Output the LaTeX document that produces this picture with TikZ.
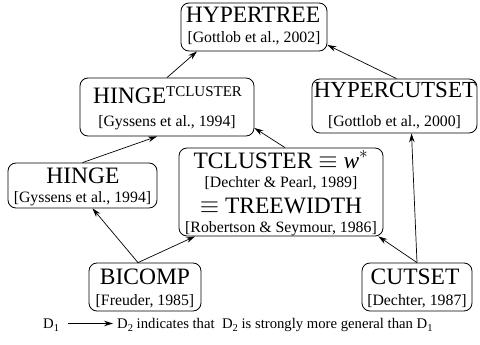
\documentclass[tikz,border=0pt]{standalone}
\usepackage{fontspec}
\setmainfont{Liberation Serif}
\usetikzlibrary{arrows.meta}
\newcommand{\lsub}[1]{\raisebox{-3.5pt}{\fontsize{10.5}{11}\selectfont #1}}
\begin{document}
\begin{tikzpicture}[x=1pt,y=-1pt,
  box/.style={draw, rounded corners=8pt, line width=0.8pt, inner sep=0pt},
  ttl/.style={font=\fontsize{23.5}{28}\selectfont, inner sep=0pt, anchor=base},
  cit/.style={font=\fontsize{15.8}{19}\selectfont, inner sep=0pt, anchor=base},
  leg/.style={font=\fontsize{14.7}{18}\selectfont, inner sep=0pt, anchor=base west},
  arr/.style={-{Stealth[length=9pt,width=5.5pt]}, line width=0.7pt}]
\useasboundingbox (0,0) rectangle (480,345);
% boxes
\node[box, minimum width=146pt, minimum height=48pt] (ht) at (254,27) {};
\node[box, minimum width=174pt, minimum height=58pt] (hinget) at (167,107) {};
\node[box, minimum width=165pt, minimum height=54pt] (hc) at (394.5,106) {};
\node[box, minimum width=149pt, minimum height=45pt] (hinge) at (82.5,185.5) {};
\node[box, minimum width=204pt, minimum height=88pt] (tc) at (281,192) {};
\node[box, minimum width=112pt, minimum height=48pt] (bicomp) at (145,287) {};
\node[box, minimum width=110pt, minimum height=48pt] (cutset) at (417,287) {};
% texts
\node[ttl] (ht-t) at (253,22.5) {HYPERTREE};
\node[cit] (ht-c) at (254,43) {[Gottlob et al., 2002]};
\node[ttl] (hinget-t) at (167.5,103) {HINGE\raisebox{6.5pt}{\fontsize{15}{15}\selectfont TCLUSTER}};
\node[cit] (hinget-c) at (167,127) {[Gyssens et al., 1994]};
\node[ttl, font=\fontsize{23}{28}\selectfont] (hc-t) at (395,98) {HYPERCUTSET};
\node[cit] (hc-c) at (394.5,127) {[Gottlob et al., 2000]};
\node[ttl] (hinge-t) at (83,183) {HINGE};
\node[cit] (hinge-c) at (82.5,202) {[Gyssens et al., 1994]};
\node[ttl] (tc-t1) at (281,168) {TCLUSTER $\equiv$ \textit{w}$^{*}$};
\node[cit] (tc-c1) at (281,187) {[Dechter \& Pearl, 1989]};
\node[ttl] (tc-t2) at (281,213) {$\equiv$ TREEWIDTH};
\node[cit] (tc-c2) at (281,232) {[Robertson \& Seymour, 1986]};
\node[ttl] (bicomp-t) at (145,284) {BICOMP};
\node[cit] (bicomp-c) at (145,305) {[Freuder, 1985]};
\node[ttl] (cutset-t) at (415,284) {CUTSET};
\node[cit] (cutset-c) at (417,305) {[Dechter, 1987]};
% connectors
\draw[arr] (hinget.north) -- ([xshift=-57pt]ht.south);
\draw[arr] ([xshift=2pt]hc.north) -- ([yshift=-18pt]ht.east);
\draw[arr] (hinge.north) -- ([xshift=-10pt]hinget.south);
\draw[arr] ([xshift=4pt]tc.north) -- ([yshift=-21pt]hinget.east);
\draw[arr] ([xshift=-7pt]bicomp.north) -- ([xshift=10pt]hinge.south);
\draw[arr] ([xshift=-7pt]bicomp.north) -- ([xshift=-86pt]tc.south);
\draw[arr] (cutset.north) -- ([xshift=17pt]hc.south);
\draw[arr] (cutset.north) -- ([xshift=-5pt]tc.south east);
% legend
\node[leg] (d1) at (43,328) {D\lsub{1}};
\node[leg] (d2) at (117,328) {D\lsub{2} indicates that\ \ D\lsub{2} is strongly more general than D\lsub{1}};
\coordinate (la) at (68,323.5);
\coordinate (lb) at (113,323.5);
\draw[arr] (la) -- (lb);
\end{tikzpicture}
\end{document}
